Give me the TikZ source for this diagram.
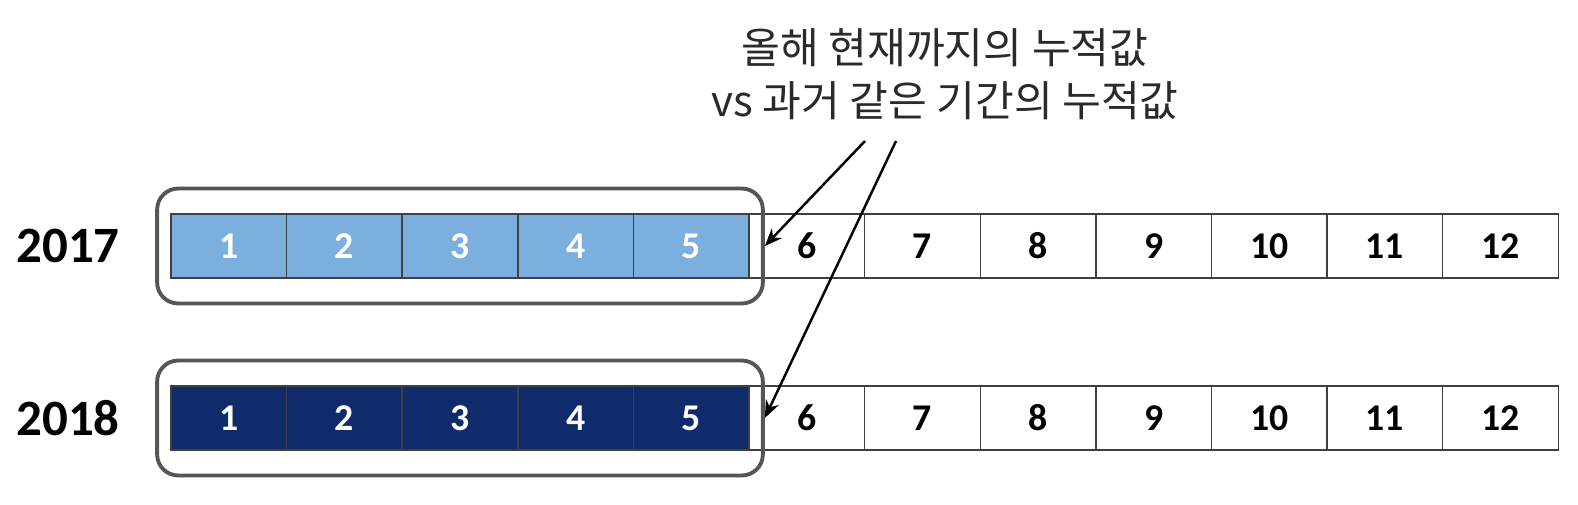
\documentclass[tikz,border=0pt]{standalone}
\usepackage{fontspec}
\setmainfont{Carlito}
\newfontfamily\krfont{Noto Sans CJK KR}
\usetikzlibrary{positioning, arrows.meta, fit}
\definecolor{mLight}{HTML}{7BAFDE}
\definecolor{mNavy}{HTML}{0F2B6C}
\definecolor{mFrame}{HTML}{555555}
\definecolor{mText}{HTML}{2A2A2A}

\begin{document}
\begin{tikzpicture}[x=0.02cm, y=-0.02cm,
  cell/.style={draw=black!75, line width=0.8pt, minimum width=2.312cm, minimum height=1.28cm,
               inner sep=0pt, font=\fontsize{21.5}{21.5}\selectfont\bfseries},
  past/.style={cell, fill=mLight, text=white},
  now/.style={cell, fill=mNavy, text=white},
  year/.style={font=\fontsize{29}{29}\selectfont\bfseries},
  frame/.style={draw=mFrame, line width=2.2pt, rounded corners=12pt, inner xsep=7.5pt, inner ysep=0pt},
  pointer/.style={-{Stealth[length=10pt, width=8pt]}, line width=1.4pt},
]
  \useasboundingbox (0,0) rectangle (1578,504);

  \node[font=\krfont\fontsize{24}{30}\selectfont, text=mText, align=center] (note) at (945,74)
    {올해 현재까지의 누적값\\vs 과거 같은 기간의 누적값};

  \node[year] (y17) at (68,246) {2017};
  \node[year] (y18) at (68,418) {2018};

  \foreach \i in {1,...,5} {
    \node[past] (a\i) at ({171+115.6*(\i-0.5)},246) {\i};
    \node[now]  (b\i) at ({171+115.6*(\i-0.5)},418) {\i};
  }
  \foreach \i in {6,...,12} {
    \node[cell] (a\i) at ({171+115.6*(\i-0.5)},246) {\i};
    \node[cell] (b\i) at ({171+115.6*(\i-0.5)},418) {\i};
  }

  \coordinate (top1) at (865,141);
  \coordinate (top2) at (896,141);
  \node[frame, fit=(a1)(a5), minimum height=2.3cm] (f17) {};
  \node[frame, fit=(b1)(b5), minimum height=2.3cm] (f18) {};

  \draw[pointer] (top1) -- (f17.east);
  \draw[pointer] (top2) -- (f18.east);
\end{tikzpicture}
\end{document}
